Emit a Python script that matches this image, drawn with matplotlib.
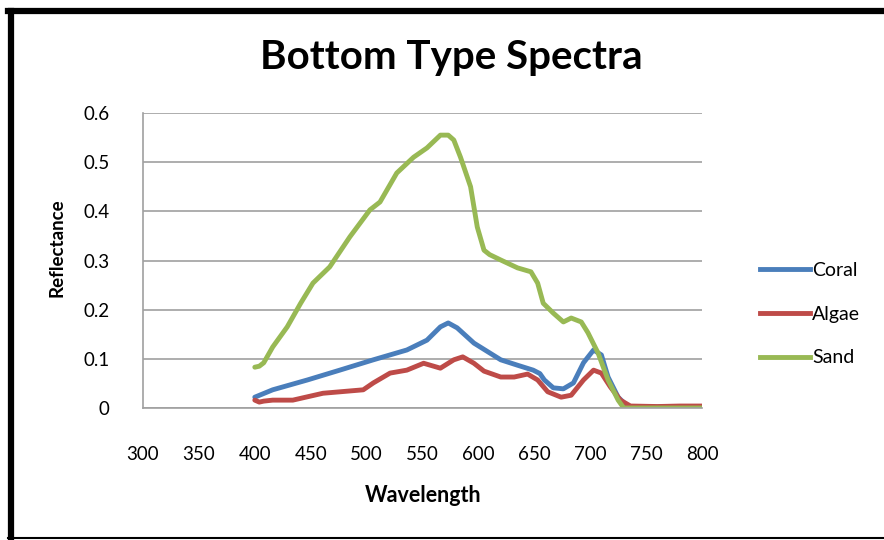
import matplotlib
matplotlib.use("Agg")
import matplotlib.pyplot as plt
from matplotlib.lines import Line2D

# ---- data ----
sand_wl = [400, 404, 408, 416, 429, 441, 452, 467, 485, 503, 512, 527, 542, 554, 566,
           573, 578, 584, 593, 599, 605, 610, 620, 635, 647, 653, 658, 667, 676, 683,
           692, 698, 707, 716, 725, 730, 800]
sand_r = [0.083, 0.085, 0.092, 0.124, 0.165, 0.213, 0.254, 0.287, 0.348, 0.403, 0.419,
          0.478, 0.510, 0.529, 0.555, 0.555, 0.545, 0.510, 0.450, 0.368, 0.321, 0.312,
          0.301, 0.285, 0.277, 0.254, 0.213, 0.193, 0.175, 0.183, 0.175, 0.153, 0.112,
          0.057, 0.016, 0.0, 0.0]

coral_wl = [400, 416, 447, 476, 506, 536, 554, 566, 573, 581, 596, 608, 620, 635, 649,
            655, 659, 667, 676, 685, 694, 703, 710, 716, 725, 734, 800]
coral_r = [0.022, 0.037, 0.057, 0.077, 0.098, 0.118, 0.138, 0.165, 0.173, 0.163, 0.132,
           0.115, 0.098, 0.087, 0.077, 0.070, 0.057, 0.041, 0.039, 0.051, 0.092, 0.118,
           0.108, 0.063, 0.022, 0.002, 0.002]

algae_wl = [400, 404, 408, 416, 434, 461, 497, 506, 521, 536, 551, 566, 578, 586, 596,
            605, 620, 632, 644, 653, 662, 674, 683, 694, 703, 710, 718, 727, 736, 760,
            780, 800]
algae_r = [0.016, 0.012, 0.014, 0.016, 0.016, 0.030, 0.037, 0.051, 0.071, 0.077, 0.091,
           0.081, 0.098, 0.104, 0.091, 0.075, 0.063, 0.063, 0.069, 0.057, 0.033, 0.022,
           0.026, 0.057, 0.077, 0.071, 0.043, 0.016, 0.004, 0.003, 0.004, 0.004]

series_names = ["Coral", "Algae", "Sand"]
series_colors = ["#4A7EBB", "#BE4B48", "#98B954"]
x_ticks = [300, 350, 400, 450, 500, 550, 600, 650, 700, 750, 800]
y_ticks = [0, 0.1, 0.2, 0.3, 0.4, 0.5, 0.6]
y_tick_labels = ["0", "0.1", "0.2", "0.3", "0.4", "0.5", "0.6"]

plt.rcParams['font.family'] = ['Lato', 'DejaVu Sans']

W, H = 884, 540
fig = plt.figure(figsize=(W / 100, H / 100), dpi=100)
fig.patch.set_facecolor("white")

ax = fig.add_axes([143 / W, 1 - 408 / H, (702 - 143) / W, (408 - 113) / H])
ax.set_xlim(300, 800)
ax.set_ylim(0, 0.6)

for spine in ["top", "right"]:
    ax.spines[spine].set_visible(False)
for spine in ["left", "bottom"]:
    ax.spines[spine].set_color("#A0A0A0")
    ax.spines[spine].set_linewidth(1.2)

ax.set_yticks(y_ticks)
ax.set_yticklabels(y_tick_labels)
ax.set_xticks(x_ticks)
ax.tick_params(axis="both", length=0, labelsize=13.5, colors="black")
ax.tick_params(axis="x", pad=27)
ax.tick_params(axis="y", pad=24)
ax.grid(axis="y", color="#A0A0A0", linewidth=1.2)
ax.set_axisbelow(True)

lw = 3.5
ax.plot(coral_wl, coral_r, color=series_colors[0], lw=lw, solid_capstyle="round")
ax.plot(algae_wl, algae_r, color=series_colors[1], lw=lw, solid_capstyle="round")
ax.plot(sand_wl, sand_r, color=series_colors[2], lw=lw, solid_capstyle="round")

# title and axis labels
fig.text(451 / W, 1 - 57 / H, "Bottom Type Spectra", ha="center", va="center",
         fontsize=29, fontweight="bold")
fig.text(423 / W, 1 - 495 / H, "Wavelength", ha="center", va="center",
         fontsize=15.5, fontweight="bold")
fig.text(57 / W, 1 - 248 / H, "Reflectance", ha="center", va="center",
         fontsize=13.5, fontweight="bold", rotation=90)

# legend
handles = [Line2D([0], [0], color=c, lw=lw) for c in series_colors]
fig.legend(handles, series_names, loc="upper left",
           bbox_to_anchor=(750 / W, 1 - 252 / H), frameon=False,
           fontsize=14, handlelength=2.6, handletextpad=0.1, labelspacing=1.38,
           borderpad=0)

# outer chart frame
fig.add_artist(Line2D([11 / W, 11 / W], [1 - 11 / H, 1 - 538 / H],
                      transform=fig.transFigure, color="black", lw=4.5))
fig.add_artist(Line2D([8 / W, 1], [1 - 11 / H, 1 - 11 / H],
                      transform=fig.transFigure, color="black", lw=4.5))
fig.add_artist(Line2D([8 / W, 1], [1 - 538 / H, 1 - 538 / H],
                      transform=fig.transFigure, color="black", lw=1.5))

fig.savefig("out.png", dpi=100)
